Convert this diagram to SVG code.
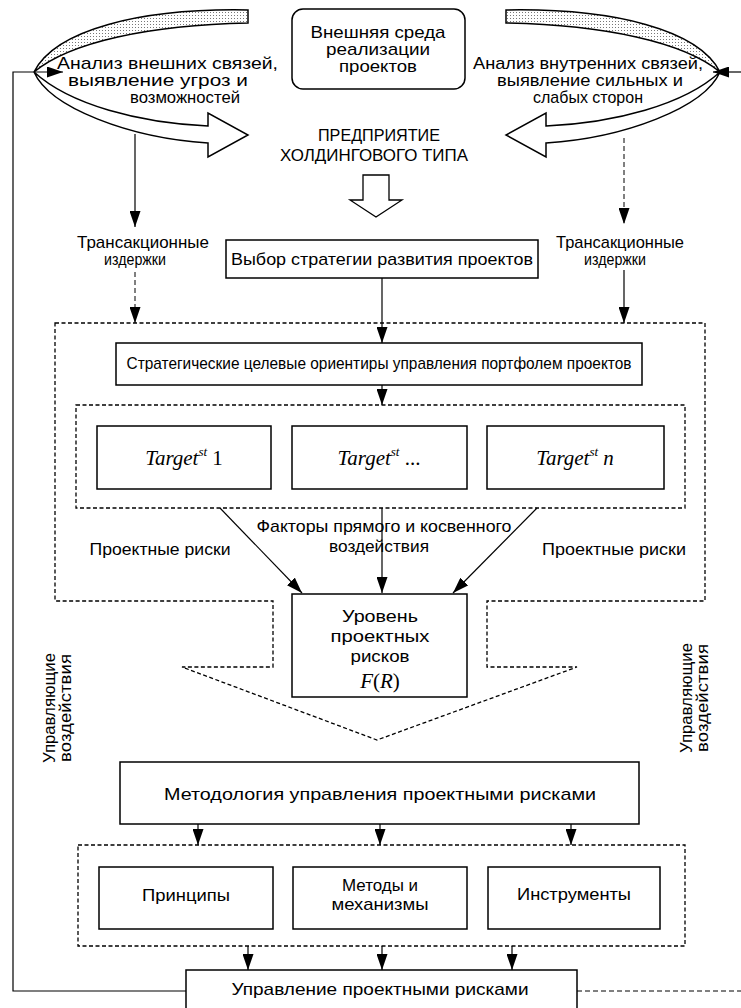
<svg xmlns="http://www.w3.org/2000/svg" width="741" height="1008" viewBox="0 0 741 1008">
<style>
.box{fill:#fff;stroke:#000;stroke-width:1.5}
.dash{fill:none;stroke:#000;stroke-width:1.3;stroke-dasharray:4 2.5}
.ln{fill:none;stroke:#000;stroke-width:1.2}
.dl{fill:none;stroke:#000;stroke-width:1;stroke-dasharray:5 3}
.t{font-family:"Liberation Sans",Arial,sans-serif;font-size:17px;fill:#000}
.c{text-anchor:middle}
.m{font-family:"Liberation Serif","Times New Roman",serif;font-size:21px;fill:#000}
.i{font-style:italic}
</style>
<defs>
<marker id="ah" viewBox="0 0 16 11" refX="16" refY="5.5" markerWidth="16" markerHeight="11" markerUnits="userSpaceOnUse" orient="auto">
<path d="M0,0 L16,5.5 L0,11 Z" fill="#000"/>
</marker>
<pattern id="dots" width="3" height="3" patternUnits="userSpaceOnUse">
<rect width="3" height="3" fill="#fff"/><rect width="1" height="1" fill="#777"/>
</pattern>
<g id="ribbonShape">
<path d="M34,72 C50,108 130,138 208,143 L208,157 L248,135 L208,113 L208,126 C140,123 70,105 34,72 Z" fill="#fff" stroke="#000" stroke-width="1.5"/>
<path d="M248,10 C140,8 55,30 34,72 C70,42 150,25 248,23 Z" fill="url(#dots)" stroke="#000" stroke-width="1.5"/>
</g>
</defs>
<rect width="741" height="1008" fill="#fff"/>

<g id="ribbon-left"><use href="#ribbonShape"/></g>
<g id="ribbon-right"><use href="#ribbonShape" transform="translate(754,0) scale(-1,1)"/></g>

<g id="connectors">
<path class="ln" d="M186,991 H13 V72 H63" marker-end="url(#ah)"/>
<path class="dl" d="M577,991 H741"/>
<path class="ln" d="M741,72 H713" marker-end="url(#ah)"/>
<path class="ln" d="M135,134 V227" marker-end="url(#ah)"/>
<path class="dl" d="M624,138 V224" marker-end="url(#ah)"/>
<path class="dl" d="M135,272 V323" marker-end="url(#ah)"/>
<path class="ln" d="M382,278 V343" marker-end="url(#ah)"/>
<path class="ln" d="M624,270 V323" marker-end="url(#ah)"/>
<path class="ln" d="M382,385 V405" marker-end="url(#ah)"/>
<path class="ln" d="M220,508 L302,593" marker-end="url(#ah)"/>
<path class="ln" d="M382,508 V593" marker-end="url(#ah)"/>
<path class="ln" d="M537,508 L453,593" marker-end="url(#ah)"/>
<path class="ln" d="M198,824 V845" marker-end="url(#ah)"/>
<path class="ln" d="M380,824 V845" marker-end="url(#ah)"/>
<path class="ln" d="M571,824 V845" marker-end="url(#ah)"/>
<path class="ln" d="M248,946 V970" marker-end="url(#ah)"/>
<path class="ln" d="M382,946 V970" marker-end="url(#ah)"/>
<path class="ln" d="M512,946 V970" marker-end="url(#ah)"/>
<polygon points="363,175 389,175 389,200 402,200 376,217 350,200 363,200" fill="#fff" stroke="#000" stroke-width="1.3"/>
</g>

<g id="env">
<rect class="box" x="292" y="9" width="173" height="80" rx="11"/>
<text class="t c" x="378" y="38" textLength="135" lengthAdjust="spacingAndGlyphs">Внешняя среда</text>
<text class="t c" x="378" y="55" textLength="104" lengthAdjust="spacingAndGlyphs">реализации</text>
<text class="t c" x="378" y="72" textLength="78" lengthAdjust="spacingAndGlyphs">проектов</text>
</g>

<g id="ext-analysis">
<text class="t" x="57" y="69" textLength="221" lengthAdjust="spacingAndGlyphs">Анализ внешних связей,</text>
<text class="t" x="68" y="86" textLength="180" lengthAdjust="spacingAndGlyphs">выявление угроз и</text>
<text class="t" x="130" y="103" textLength="110" lengthAdjust="spacingAndGlyphs">возможностей</text>
</g>

<g id="int-analysis">
<text class="t" x="473" y="69" textLength="230" lengthAdjust="spacingAndGlyphs">Анализ внутренних связей,</text>
<text class="t" x="497" y="86" textLength="186" lengthAdjust="spacingAndGlyphs">выявление сильных и</text>
<text class="t" x="533" y="103" textLength="110" lengthAdjust="spacingAndGlyphs">слабых сторон</text>
</g>

<g id="enterprise">
<text class="t c" x="379" y="141" textLength="122" lengthAdjust="spacingAndGlyphs">ПРЕДПРИЯТИЕ</text>
<text class="t c" x="374" y="161" textLength="188" lengthAdjust="spacingAndGlyphs">ХОЛДИНГОВОГО ТИПА</text>
</g>

<g id="trans-left">
<text class="t c" x="143" y="248" textLength="132" lengthAdjust="spacingAndGlyphs">Трансакционные</text>
<text class="t c" x="135" y="265" textLength="62" lengthAdjust="spacingAndGlyphs">издержки</text>
</g>
<g id="trans-right">
<text class="t c" x="620" y="248" textLength="128" lengthAdjust="spacingAndGlyphs">Трансакционные</text>
<text class="t c" x="615" y="265" textLength="62" lengthAdjust="spacingAndGlyphs">издержки</text>
</g>

<g id="strategy">
<rect class="box" x="226" y="240" width="312" height="38"/>
<text class="t c" x="382" y="265" textLength="302" lengthAdjust="spacingAndGlyphs">Выбор стратегии развития проектов</text>
</g>

<g id="outer-frame">
<path class="dash" d="M55,323 H705 V601 H487 V667 H577 L377,740 L182,667 H273 V601 H55 Z"/>
</g>

<g id="targets-guide">
<rect class="box" x="116" y="343" width="526" height="42"/>
<text class="t c" x="379" y="369" font-size="14" textLength="505" lengthAdjust="spacingAndGlyphs">Стратегические целевые ориентиры управления портфолем проектов</text>
</g>

<g id="targets-frame">
<rect class="dash" x="76" y="405" width="609" height="103"/>
</g>
<g id="target-1">
<rect class="box" x="97" y="426" width="174" height="63"/>
<text class="m c" x="184" y="465"><tspan class="i">Target</tspan><tspan class="i" font-size="13" dy="-9">st</tspan><tspan dy="9"> 1</tspan></text>
</g>
<g id="target-2">
<rect class="box" x="292" y="426" width="175" height="63"/>
<text class="m c" x="379" y="465"><tspan class="i">Target</tspan><tspan class="i" font-size="13" dy="-9">st</tspan><tspan dy="9"> ...</tspan></text>
</g>
<g id="target-n">
<rect class="box" x="487" y="426" width="177" height="63"/>
<text class="m c" x="575" y="465"><tspan class="i">Target</tspan><tspan class="i" font-size="13" dy="-9">st</tspan><tspan dy="9"> </tspan><tspan class="i">n</tspan></text>
</g>

<g id="factors">
<text class="t c" x="384" y="532" textLength="255" lengthAdjust="spacingAndGlyphs">Факторы прямого и косвенного</text>
<text class="t c" x="379" y="552" textLength="100" lengthAdjust="spacingAndGlyphs">воздействия</text>
</g>
<g id="risks-left"><text class="t c" x="160" y="555" textLength="141" lengthAdjust="spacingAndGlyphs">Проектные риски</text></g>
<g id="risks-right"><text class="t c" x="614" y="555" textLength="144" lengthAdjust="spacingAndGlyphs">Проектные риски</text></g>

<g id="risk-level">
<rect class="box" x="292" y="594" width="175" height="103"/>
<text class="t c" x="380" y="622" textLength="76" lengthAdjust="spacingAndGlyphs">Уровень</text>
<text class="t c" x="380" y="642" textLength="99" lengthAdjust="spacingAndGlyphs">проектных</text>
<text class="t c" x="380" y="662" textLength="59" lengthAdjust="spacingAndGlyphs">рисков</text>
<text class="m c" x="380" y="688"><tspan class="i">F</tspan>(<tspan class="i">R</tspan>)</text>
</g>

<g id="control-left">
<text class="t c" transform="translate(55,708) rotate(-90)" textLength="110" lengthAdjust="spacingAndGlyphs">Управляющие</text>
<text class="t c" transform="translate(71,708) rotate(-90)" textLength="108" lengthAdjust="spacingAndGlyphs">воздействия</text>
</g>
<g id="control-right">
<text class="t c" transform="translate(692,698) rotate(-90)" textLength="110" lengthAdjust="spacingAndGlyphs">Управляющие</text>
<text class="t c" transform="translate(708,698) rotate(-90)" textLength="108" lengthAdjust="spacingAndGlyphs">воздействия</text>
</g>

<g id="methodology">
<rect class="box" x="120" y="762" width="519" height="62"/>
<text class="t c" x="380" y="800" textLength="432" lengthAdjust="spacingAndGlyphs">Методология управления проектными рисками</text>
</g>

<g id="tools-frame">
<rect class="dash" x="78" y="845" width="607" height="101"/>
</g>
<g id="principles">
<rect class="box" x="99" y="867" width="174" height="62"/>
<text class="t c" x="186" y="901" textLength="88" lengthAdjust="spacingAndGlyphs">Принципы</text>
</g>
<g id="methods">
<rect class="box" x="293" y="867" width="174" height="62"/>
<text class="t c" x="380" y="891" textLength="76" lengthAdjust="spacingAndGlyphs">Методы и</text>
<text class="t c" x="380" y="910" textLength="97" lengthAdjust="spacingAndGlyphs">механизмы</text>
</g>
<g id="instruments">
<rect class="box" x="488" y="867" width="172" height="62"/>
<text class="t c" x="574" y="900" textLength="114" lengthAdjust="spacingAndGlyphs">Инструменты</text>
</g>

<g id="risk-management">
<rect class="box" x="186" y="970" width="391" height="50"/>
<text class="t c" x="380" y="995" textLength="297" lengthAdjust="spacingAndGlyphs">Управление проектными рисками</text>
</g>
</svg>
